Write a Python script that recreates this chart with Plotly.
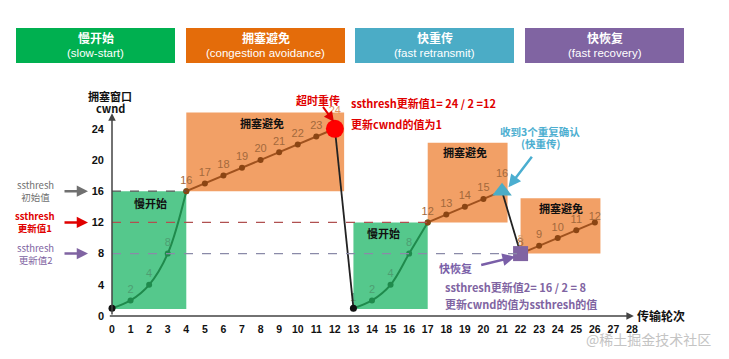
import plotly.graph_objects as go

# ---------------- data ----------------
ss1_x = [0, 1, 2, 3, 4]
ss1_y = [1, 2, 4, 8, 16]
ca1_x = [4, 5, 6, 7, 8, 9, 10, 11, 12]
ca1_y = [16, 17, 18, 19, 20, 21, 22, 23, 24]
ss2_x = [13, 14, 15, 16, 17]
ss2_y = [1, 2, 4, 8, 12]
ca2_x = [17, 18, 19, 20, 21]
ca2_y = [12, 13, 14, 15, 16]
ca3_x = [22, 23, 24, 25, 26]
ca3_y = [8, 9, 10, 11, 12]
timeout_x = [12, 13]
timeout_y = [24, 1]
fastre_x = [21, 22]
fastre_y = [16, 8]
ssthresh_vals = [16, 12, 8]
ssthresh_end = [4, 17, 22]
ssthresh_names = ["ssthresh<br>初始值", "ssthresh<br>更新值1", "ssthresh<br>更新值2"]
phase_titles = ["慢开始", "拥塞避免", "快重传", "快恢复"]
phase_subs = ["(slow-start)", "(congestion avoidance)", "(fast retransmit)", "(fast recovery)"]
x_ticks = list(range(0, 29))
y_ticks = [0, 4, 8, 12, 16, 20, 24]

# ---------------- styles ----------------
FONT = "Liberation Sans Narrow, Liberation Sans, Noto Sans CJK SC, sans-serif"
CJK = "Noto Sans CJK SC, sans-serif"
GREEN_FILL = "#55C88C"
ORANGE_FILL = "#F2A066"
GREEN_LINE = "#1F8A4C"
BROWN_LINE = "#A0521E"
GREEN_LBL = "#4E9E72"
BROWN_LBL = "#A3693C"
BLUE_TXT = "#4BAED0"
phase_colors = ["#00B050", "#E46C0A", "#4BACC6", "#8064A2"]
thr_colors = ["#555555", "#B05050", "#8A8AA8"]
left_colors = ["#707070", "#E00000", "#8064A2"]

# page has an 8px body margin; layout is defined in page pixels
OFF = 8
W, H = 729 - OFF, 359 - OFF
P_L, P_R, P_T, P_B = 105, 645, 95, 321  # plot area in page pixels
ML, MT = P_L - OFF, P_T - OFF
MR, MB = W - (P_R - OFF), H - (P_B - OFF)
PW, PH = P_R - P_L, P_B - P_T


def pxx(px):
    return (px - P_L) / PW


def pxy(py):
    return (P_B - py) / PH


fig = go.Figure()

shapes = []
# region rectangles (below traces)
shapes.append(dict(type="rect", xref="x", yref="y", x0=ss1_x[0], x1=ss1_x[-1], y0=0.9, y1=ss1_y[-1],
                   fillcolor=GREEN_FILL, line_width=0, layer="below"))
shapes.append(dict(type="rect", xref="x", yref="y", x0=ca1_x[0], x1=ca1_x[-1] + 0.5, y0=ca1_y[0], y1=ca1_y[-1] + 2.1,
                   fillcolor=ORANGE_FILL, line_width=0, layer="below"))
shapes.append(dict(type="rect", xref="x", yref="y", x0=ss2_x[0], x1=ss2_x[-1], y0=0.9, y1=ss2_y[-1],
                   fillcolor=GREEN_FILL, line_width=0, layer="below"))
shapes.append(dict(type="rect", xref="x", yref="y", x0=ca2_x[0], x1=ca2_x[-1] + 0.3, y0=ca2_y[0], y1=ca2_y[-1] + 6.2,
                   fillcolor=ORANGE_FILL, line_width=0, layer="below"))
shapes.append(dict(type="rect", xref="x", yref="y", x0=ca3_x[0], x1=ca3_x[-1] + 0.3, y0=ca3_y[0], y1=ca3_y[-1] + 3.1,
                   fillcolor=ORANGE_FILL, line_width=0, layer="below"))
# threshold dashed lines
for v, e, c in zip(ssthresh_vals, ssthresh_end, thr_colors):
    shapes.append(dict(type="line", xref="x", yref="y", x0=0, x1=e, y0=v, y1=v,
                       line=dict(color=c, width=1.3, dash="dash"), layer="above"))
# header boxes
box_px = [(16, 175), (186, 345), (355, 514), (525, 684)]
for (a, b), c in zip(box_px, phase_colors):
    shapes.append(dict(type="rect", xref="paper", yref="paper", x0=pxx(a), x1=pxx(b), y0=pxy(63), y1=pxy(28),
                       fillcolor=c, line_width=0))

# traces
fig.add_trace(go.Scatter(x=ss1_x, y=ss1_y, mode="lines+markers+text", line=dict(color=GREEN_LINE, width=2, shape="spline"),
                         marker=dict(color=GREEN_LINE, size=6), text=[""] + [str(v) for v in ss1_y[1:-1]] + [""],
                         textposition="top center", textfont=dict(color=GREEN_LBL, size=11, family=FONT), hoverinfo="skip"))
fig.add_trace(go.Scatter(x=ss2_x, y=ss2_y, mode="lines+markers+text", line=dict(color=GREEN_LINE, width=2, shape="spline"),
                         marker=dict(color=GREEN_LINE, size=6), text=["1"] + [str(v) for v in ss2_y[1:-1]] + [""],
                         textposition="top center", textfont=dict(color=GREEN_LBL, size=11, family=FONT), hoverinfo="skip"))
fig.add_trace(go.Scatter(x=timeout_x, y=timeout_y, mode="lines", line=dict(color="#222222", width=1.8), hoverinfo="skip"))
fig.add_trace(go.Scatter(x=fastre_x, y=fastre_y, mode="lines", line=dict(color="#222222", width=1.8), hoverinfo="skip"))
for xs, ys in [(ca1_x, ca1_y), (ca2_x, ca2_y), (ca3_x, ca3_y)]:
    fig.add_trace(go.Scatter(x=xs, y=ys, mode="lines+markers+text", line=dict(color=BROWN_LINE, width=2),
                             marker=dict(color="#8B4513", size=6), text=[str(v) for v in ys[:-1]] + [""],
                             textposition="top center", textfont=dict(color=BROWN_LBL, size=11, family=FONT),
                             hoverinfo="skip"))
fig.add_trace(go.Scatter(x=[ca3_x[-1]], y=[ca3_y[-1]], mode="text", text=[str(ca3_y[-1])],
                         textposition="top center", textfont=dict(color=BROWN_LBL, size=11, family=FONT),
                         hoverinfo="skip"))
fig.add_trace(go.Scatter(x=[ss1_x[0], ss2_x[0]], y=[ss1_y[0], ss2_y[0]], mode="markers",
                         marker=dict(color="#111111", size=7), hoverinfo="skip"))
fig.add_trace(go.Scatter(x=[timeout_x[0]], y=[timeout_y[0]], mode="markers+text", text=[str(timeout_y[0])],
                         textposition="top center", textfont=dict(color="#E39560", size=11, family=FONT),
                         marker=dict(color="#FF0000", size=18), hoverinfo="skip"))
fig.add_trace(go.Scatter(x=[fastre_x[0]], y=[fastre_y[0]], mode="markers+text", text=[str(fastre_y[0])],
                         textposition="top center", textfont=dict(color=BROWN_LBL, size=11, family=FONT),
                         marker=dict(color="#4BACC6", size=17, symbol="triangle-up"), hoverinfo="skip"))
fig.add_trace(go.Scatter(x=[fastre_x[1]], y=[fastre_y[1]], mode="markers+text", text=[str(fastre_y[1])],
                         textposition="top center", textfont=dict(color="#D89A6A", size=9, family=FONT),
                         marker=dict(color="#8064A2", size=15, symbol="square"), hoverinfo="skip"))

ann = []


def A(**kw):
    kw.setdefault("xanchor", "center")
    kw.setdefault("yanchor", "middle")
    ann.append(kw)


# axes arrows
A(x=0, y=26.0, ax=0, ay=0, xref="x", yref="y", axref="x", ayref="y", showarrow=True,
  arrowhead=2, arrowsize=1, arrowwidth=1.5, arrowcolor="#444444", text="")
A(x=28.1, y=0, ax=-0.2, ay=0, xref="x", yref="y", axref="x", ayref="y", showarrow=True,
  arrowhead=2, arrowsize=1, arrowwidth=1.5, arrowcolor="#444444", text="")
A(x=-0.1, y=28.2, xref="x", yref="y", text="拥塞窗口", showarrow=False,
  font=dict(family=CJK, size=11, color="#111111", weight="bold"))
A(x=-0.1, y=26.7, xref="x", yref="y", text="cwnd", showarrow=False,
  font=dict(family=CJK, size=11, color="#111111", weight="bold"))
A(x=pxx(661), y=0.1, xref="paper", yref="y", text="传输轮次", showarrow=False,
  font=dict(family=CJK, size=12, color="#111111", weight="bold"))
# left threshold labels and arrows
for v, name, c in zip(ssthresh_vals, ssthresh_names, left_colors):
    A(x=pxx(35), y=v, xref="paper", yref="y", text=name, showarrow=False,
      font=dict(family=CJK, size=9.5, color=c, weight="bold" if c == "#E00000" else "normal"))
    A(x=pxx(88), y=v, ax=-25, ay=0, xref="paper", yref="y", axref="pixel", ayref="pixel", text="",
      showarrow=True, arrowhead=2, arrowsize=0.9, arrowwidth=2.5, arrowcolor=c)
# header texts
for (a, b), t, s in zip(box_px, phase_titles, phase_subs):
    cx = pxx((a + b) / 2)
    A(x=cx, y=pxy(38), xref="paper", yref="paper", text=t, showarrow=False,
      font=dict(family=CJK, size=12, color="white", weight="bold"))
    A(x=cx, y=pxy(53), xref="paper", yref="paper", text=s, showarrow=False,
      font=dict(family=FONT, size=11.5, color="white"))
# region labels
for x, y, t in [(2.05, 14.5, "慢开始"), (8.1, 24.7, "拥塞避免"), (14.6, 10.6, "慢开始"),
                (19.0, 21.0, "拥塞避免"), (24.2, 13.8, "拥塞避免")]:
    A(x=x, y=y, xref="x", yref="y", text=t, showarrow=False,
      font=dict(family=CJK, size=11, color="#111111", weight="bold"))
# timeout annotations
A(x=11.1, y=27.7, xref="x", yref="y", text="超时重传", showarrow=False,
  font=dict(family=CJK, size=11, color="#E00000", weight="bold"))
A(x=11.95, y=24.9, ax=11.3, ay=27.0, xref="x", yref="y", axref="x", ayref="y", text="",
  showarrow=True, arrowhead=2, arrowsize=1, arrowwidth=2, arrowcolor="#E00000")
A(x=12.75, y=27.3, xref="x", yref="y", xanchor="left", text="ssthresh更新值1= 24 / 2 =12",
  showarrow=False, font=dict(family=CJK, size=11, color="#E00000", weight="bold"))
A(x=12.75, y=24.6, xref="x", yref="y", xanchor="left", text="更新cwnd的值为1",
  showarrow=False, font=dict(family=CJK, size=11, color="#E00000", weight="bold"))
# fast retransmit annotations
A(x=23.05, y=23.7, xref="x", yref="y", text="收到3个重复确认", showarrow=False,
  font=dict(family=CJK, size=10.5, color=BLUE_TXT, weight="bold"))
A(x=23.05, y=22.05, xref="x", yref="y", text="(快重传)", showarrow=False,
  font=dict(family=CJK, size=10.5, color=BLUE_TXT, weight="bold"))
A(x=21.35, y=16.5, ax=22.67, ay=20.6, xref="x", yref="y", axref="x", ayref="y", text="",
  showarrow=True, arrowhead=2, arrowsize=1, arrowwidth=2.5, arrowcolor=BLUE_TXT)
# fast recovery annotations
A(x=18.5, y=6.15, xref="x", yref="y", text="快恢复", showarrow=False,
  font=dict(family=CJK, size=11, color="#7A5FA8", weight="bold"))
A(x=21.7, y=7.6, ax=19.8, ay=6.5, xref="x", yref="y", axref="x", ayref="y", text="",
  showarrow=True, arrowhead=2, arrowsize=1, arrowwidth=2.5, arrowcolor="#7A5FA8")
A(x=17.8, y=3.7, xref="x", yref="y", xanchor="left", text="ssthresh更新值2= 16 / 2 = 8",
  showarrow=False, font=dict(family=CJK, size=11, color="#8064A2", weight="bold"))
A(x=17.8, y=1.55, xref="x", yref="y", xanchor="left", text="更新cwnd的值为ssthresh的值",
  showarrow=False, font=dict(family=CJK, size=11, color="#8064A2", weight="bold"))
# watermark
A(x=pxx(648), y=pxy(339), xref="paper", yref="paper", text="@稀土掘金技术社区", showarrow=False,
  font=dict(family=CJK, size=14, color="#C4C4C4"))

fig.update_layout(
    width=W, height=H, autosize=False,
    margin=dict(l=ML, r=MR, t=MT, b=MB, pad=0),
    paper_bgcolor="white", plot_bgcolor="white",
    showlegend=False, shapes=shapes, annotations=ann,
    xaxis=dict(range=[-0.377, 28.70], tickvals=x_ticks, ticktext=[str(v) for v in x_ticks],
               showgrid=False, zeroline=False, showline=False, ticks="", automargin=False,
               tickfont=dict(family=FONT, size=10.5, color="#111111", weight="bold"), fixedrange=True),
    yaxis=dict(range=[-0.64, 28.33], tickvals=y_ticks, ticktext=[str(v) for v in y_ticks],
               showgrid=False, zeroline=False, showline=False, ticks="", automargin=False,
               tickfont=dict(family=FONT, size=11, color="#111111", weight="bold"), fixedrange=True),
)

fig.write_html("out.html")
